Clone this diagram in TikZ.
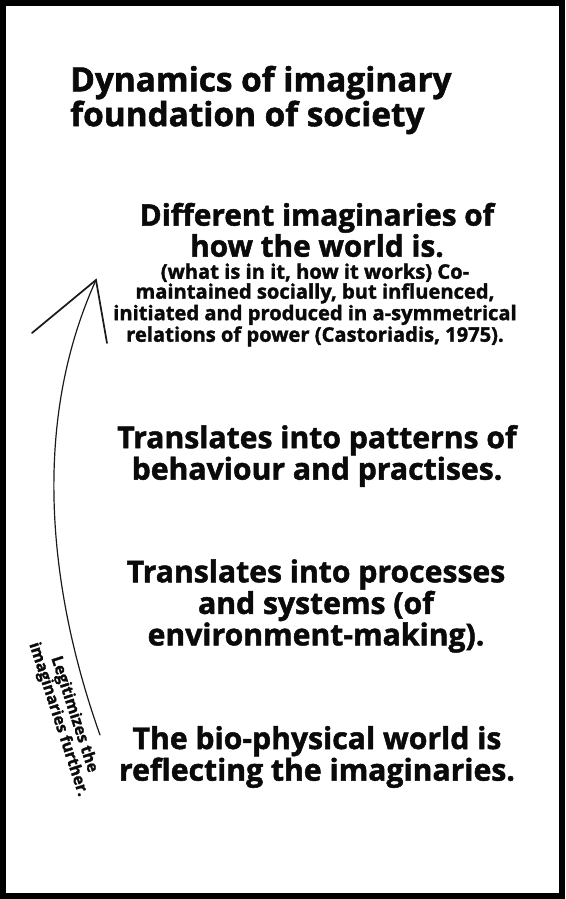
\documentclass[tikz,border=0pt]{standalone}
\usepackage{fontspec}
\setmainfont{Open Sans}[BoldFeatures={FakeBold=1.6}]
\definecolor{ink}{HTML}{0A0A0A}
\definecolor{pencil}{HTML}{1A1A1A}

\begin{document}
\begin{tikzpicture}[x=0.75pt, y=-0.75pt,
  stage/.style={align=center, text=ink, font=\bfseries\fontsize{22.6}{22.5}\selectfont, inner sep=0pt},
  note/.style={align=center, text=ink, font=\bfseries\fontsize{15.1}{12.2}\selectfont, inner sep=0pt}]

  % === Dynamics of imaginary foundation of society ===
  \useasboundingbox (0,0) rectangle (565,899);

  % Outer frame
  \draw[black, line width=4.8pt] (3,3) rectangle (562,896);

  % Title (left aligned)
  \node[anchor=west, align=left, text=ink, inner sep=0pt,
        font=\bfseries\fontsize{25}{23}\selectfont] (title) at (70,100)
    {Dynamics of imaginary\\foundation of society};

  % Stage 1: the imaginaries
  \node[stage, font=\bfseries\fontsize{22.3}{22}\selectfont] (imag) at (317,230)
    {Different imaginaries of\\how the world is.};
  \node[note] (imagnote) at (315,305)
    {(what is in it, how it works) Co-\\maintained socially, but influenced,\\initiated and produced in a-symmetrical\\relations of power (Castoriadis, 1975).};

  % Stage 2 to 4
  \node[stage] (patterns) at (317,456)
    {Translates into patterns of\\behaviour and practises.};
  \node[stage] (processes) at (316,606)
    {Translates into processes\\and systems (of\\environment-making).};
  \node[stage] (biophys) at (317,757)
    {The bio-physical world is\\reflecting the imaginaries.};

  % Feedback arrow (hand drawn), from bottom back up to the imaginaries
  \coordinate (tail) at (100,735);
  \coordinate (tip) at (96,280);
  \coordinate (barbL) at (32,333);
  \coordinate (barbR) at (107,343);
  \draw[pencil, line width=0.9pt, line cap=round]
    (tail) .. controls (52,600) and (28,430) .. (tip);
  \draw[pencil, line width=1.3pt, line cap=round] (barbL) -- (tip) -- (barbR);

  % Arrow label, rotated along the curve
  \node[note, rotate=-72, font=\bfseries\fontsize{12}{12.5}\selectfont] (legit) at (66,717)
    {Legitimizes the\\imaginaries further.};

\end{tikzpicture}
\end{document}
